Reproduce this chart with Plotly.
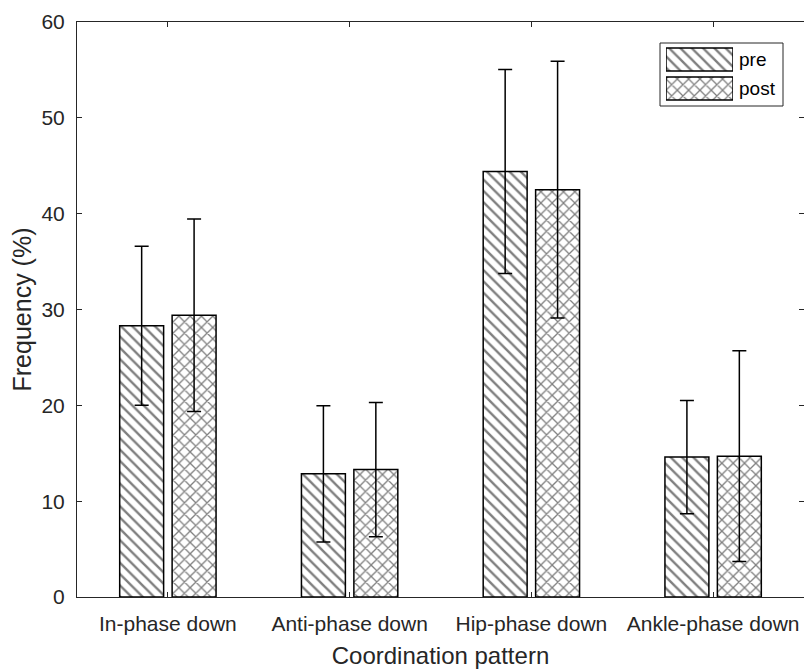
import plotly.graph_objects as go

categories = ["In-phase down", "Anti-phase down", "Hip-phase down", "Ankle-phase down"]
pre_mean = [28.3, 12.85, 44.4, 14.6]
pre_sd = [8.3, 7.1, 10.65, 5.9]
post_mean = [29.4, 13.3, 42.5, 14.7]
post_sd = [10.05, 7.0, 13.4, 11.0]
series_names = ["pre", "post"]
series_patterns = ["\\", "x"]

FONT = "Liberation Sans, Arial, sans-serif"
DARK = "#262626"

fig = go.Figure()
for name, mean, sd, shape in [(series_names[0], pre_mean, pre_sd, series_patterns[0]),
                              (series_names[1], post_mean, post_sd, series_patterns[1])]:
    fig.add_trace(go.Bar(
        name=name, x=categories, y=mean, showlegend=False,
        marker=dict(color="white",
                    line=dict(color="black", width=1.5),
                    pattern=dict(shape=shape, fgcolor="black", bgcolor="white",
                                 size=8, solidity=0.3, fillmode="overlay")),
        error_y=dict(type="data", array=sd, visible=True, color="black",
                     thickness=1.5, width=7),
    ))

# Legend drawn as a small inset axis (swatches) + text labels
fig.add_trace(go.Bar(
    x=[1, 1], y=series_names[::-1], orientation="h", width=0.8,
    xaxis="x2", yaxis="y2", showlegend=False, hoverinfo="skip",
    marker=dict(color="white", line=dict(color="black", width=1.5),
                pattern=dict(shape=series_patterns[::-1], fgcolor="black", bgcolor="white",
                             size=8, solidity=0.3, fillmode="overlay")),
))

def px_x(p):
    return (p - 77) / 727.0

def px_y(p):
    return (597 - p) / 575.0

fig.update_layout(
    width=804, height=669,
    margin=dict(l=77, r=0, t=22, b=72),
    paper_bgcolor="white", plot_bgcolor="white",
    barmode="group", bargap=0.423, bargroupgap=0.162,
    font=dict(family=FONT, color=DARK, size=21),
    showlegend=False,
    xaxis=dict(range=[-0.5, 3.5], showline=True, linecolor=DARK, linewidth=1,
               mirror="ticks", ticks="inside", ticklen=5, tickcolor=DARK,
               showgrid=False, zeroline=False, ticklabelstandoff=8,
               tickfont=dict(size=21, color=DARK),
               title=dict(text="Coordination pattern", font=dict(size=24, color=DARK), standoff=12)),
    yaxis=dict(range=[0, 60], dtick=10, showline=True, linecolor=DARK, linewidth=1,
               mirror="ticks", ticks="inside", ticklen=5, tickcolor=DARK,
               showgrid=False, zeroline=False, ticklabelstandoff=7,
               tickfont=dict(size=21, color=DARK),
               title=dict(text="Frequency (%)", font=dict(size=25, color=DARK), standoff=2)),
    xaxis2=dict(domain=[px_x(666), px_x(733)], anchor="y2", range=[0, 1],
                visible=False, fixedrange=True),
    yaxis2=dict(domain=[px_y(103), px_y(45)], anchor="x2", type="category",
                visible=False, fixedrange=True),
    shapes=[dict(type="rect", xref="paper", yref="paper",
                 x0=px_x(660), x1=px_x(783), y0=px_y(106), y1=px_y(43),
                 line=dict(color=DARK, width=1), fillcolor="rgba(0,0,0,0)", layer="below")],
    annotations=[dict(text=n, xref="paper", yref="y2", x=px_x(737), y=n,
                      xanchor="left", yanchor="middle", showarrow=False,
                      font=dict(size=19, color="black", family=FONT))
                 for n in series_names],
)

fig.write_html("out.html")
